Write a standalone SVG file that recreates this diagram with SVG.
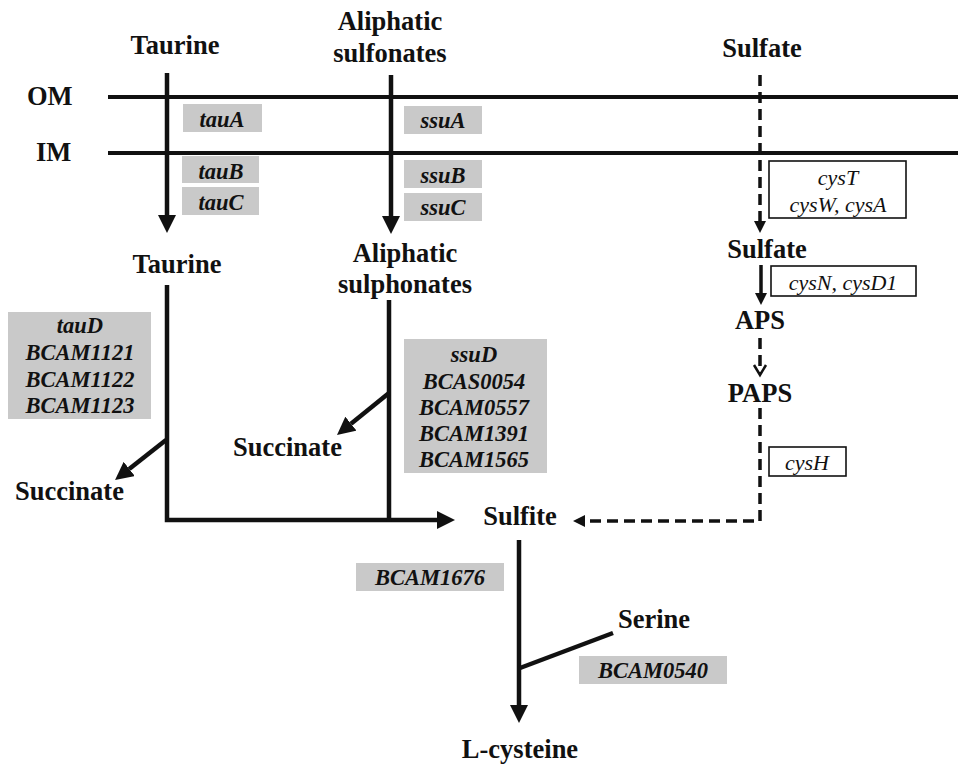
<svg xmlns="http://www.w3.org/2000/svg" width="958" height="766" viewBox="0 0 958 766">
<style>
.lbl{font-family:'Liberation Serif',serif;font-weight:bold;font-size:26.5px;fill:#111}
.c{text-anchor:middle}
.gene{font-family:'Liberation Serif',serif;font-weight:bold;font-style:italic;font-size:22.5px;fill:#111;text-anchor:middle}
.cys{font-family:'Liberation Serif',serif;font-style:italic;font-size:22px;fill:#111;text-anchor:middle}
.gbox{fill:#c9c9c9}
.wbox{fill:#fff;stroke:#111;stroke-width:1.6}
.mem{stroke:#111;stroke-width:4;fill:none}
.sol{stroke:#111;stroke-width:4.5;fill:none}
.dash{stroke:#111;stroke-width:3.5;fill:none;stroke-dasharray:11,6}
.thin{stroke:#111;stroke-width:3.5;fill:none}
</style>
<defs>
<marker id="ah" markerWidth="18" markerHeight="18" refX="0" refY="9" orient="auto" markerUnits="userSpaceOnUse" viewBox="0 0 18 18"><path d="M0,0 L18,9 L0,18 z" fill="#111"/></marker>
<marker id="as" markerWidth="12" markerHeight="12" refX="0" refY="6" orient="auto" markerUnits="userSpaceOnUse" viewBox="0 0 12 12"><path d="M0,0 L12,6 L0,12 z" fill="#111"/></marker>
</defs>
<g id="membranes">
<line class="mem" x1="108" y1="97" x2="958" y2="97"/>
<line class="mem" x1="108" y1="153" x2="958" y2="153"/>
<text class="lbl" x="27" y="105">OM</text>
<text class="lbl" x="36" y="161">IM</text>
</g>
<g id="connectors">
<line class="sol" x1="167" y1="73" x2="167" y2="215" marker-end="url(#ah)"/>
<line class="sol" x1="391" y1="75" x2="391" y2="216" marker-end="url(#ah)"/>
<line class="dash" x1="760" y1="75" x2="760" y2="221" marker-end="url(#as)"/>
<path class="sol" d="M167,285 V520 H437" marker-end="url(#ah)"/>
<line class="sol" x1="389" y1="300" x2="389" y2="522"/>
<line class="sol" x1="166" y1="440" x2="129.2" y2="468.9" marker-end="url(#ah)"/>
<line class="sol" x1="389" y1="393" x2="351" y2="423.7" marker-end="url(#ah)"/>
<line class="thin" x1="761" y1="265" x2="761" y2="293" marker-end="url(#as)"/>
<line class="dash" x1="760" y1="338" x2="760" y2="373"/>
<polyline points="754,365 760,375 766,365" fill="none" stroke="#111" stroke-width="2.5"/>
<path class="dash" d="M760,408 V521 H585" marker-end="url(#as)"/>
<line class="sol" x1="519" y1="540" x2="519" y2="705" marker-end="url(#ah)"/>
<line class="sol" x1="520" y1="668" x2="613" y2="633"/>
</g>
<g id="taurine-out"><text class="lbl c" x="175" y="54">Taurine</text></g>
<g id="aliphatic-out"><text class="lbl c" x="390" y="30">Aliphatic</text><text class="lbl c" x="390" y="62">sulfonates</text></g>
<g id="sulfate-out"><text class="lbl c" x="762" y="57">Sulfate</text></g>
<g id="tauA"><rect class="gbox" x="183" y="104" width="79" height="28"/><text class="gene" x="222" y="127">tauA</text></g>
<g id="tauB"><rect class="gbox" x="182" y="156" width="77" height="27"/><text class="gene" x="221" y="179">tauB</text></g>
<g id="tauC"><rect class="gbox" x="182" y="187" width="77" height="28"/><text class="gene" x="221" y="210">tauC</text></g>
<g id="ssuA"><rect class="gbox" x="404" y="106" width="78" height="28"/><text class="gene" x="443" y="128">ssuA</text></g>
<g id="ssuB"><rect class="gbox" x="404" y="160" width="78" height="28"/><text class="gene" x="443" y="183">ssuB</text></g>
<g id="ssuC"><rect class="gbox" x="404" y="193" width="78" height="28"/><text class="gene" x="443" y="215">ssuC</text></g>
<g id="cysTWA"><rect class="wbox" x="769" y="161" width="137" height="57"/><text class="cys" x="838" y="185">cysT</text><text class="cys" x="838" y="212">cysW, cysA</text></g>
<g id="taurine-in"><text class="lbl c" x="177" y="273">Taurine</text></g>
<g id="aliphatic-in"><text class="lbl c" x="405" y="262">Aliphatic</text><text class="lbl c" x="405" y="293">sulphonates</text></g>
<g id="sulfate-in"><text class="lbl c" x="767" y="258">Sulfate</text></g>
<g id="cysND"><rect class="wbox" x="771" y="266" width="145" height="30"/><text class="cys" x="843" y="290">cysN, cysD1</text></g>
<g id="aps"><text class="lbl c" x="760" y="329">APS</text></g>
<g id="paps"><text class="lbl c" x="760" y="402">PAPS</text></g>
<g id="cysH"><rect class="wbox" x="769" y="447" width="77" height="29"/><text class="cys" x="807" y="470">cysH</text></g>
<g id="tauD"><rect class="gbox" x="8" y="312" width="143" height="107"/>
<text class="gene" x="80" y="333">tauD</text><text class="gene" x="80" y="360">BCAM1121</text><text class="gene" x="80" y="387">BCAM1122</text><text class="gene" x="80" y="413">BCAM1123</text></g>
<g id="ssuD"><rect class="gbox" x="404" y="339" width="143" height="134"/>
<text class="gene" x="474" y="362">ssuD</text><text class="gene" x="474" y="389">BCAS0054</text><text class="gene" x="474" y="415">BCAM0557</text><text class="gene" x="474" y="441">BCAM1391</text><text class="gene" x="474" y="467">BCAM1565</text></g>
<g id="succinate-1"><text class="lbl" x="15" y="500">Succinate</text></g>
<g id="succinate-2"><text class="lbl" x="233" y="456">Succinate</text></g>
<g id="sulfite"><text class="lbl c" x="520" y="525">Sulfite</text></g>
<g id="BCAM1676"><rect class="gbox" x="356" y="563" width="148" height="28"/><text class="gene" x="430" y="585">BCAM1676</text></g>
<g id="serine"><text class="lbl" x="618" y="628">Serine</text></g>
<g id="BCAM0540"><rect class="gbox" x="579" y="656" width="148" height="28"/><text class="gene" x="653" y="678">BCAM0540</text></g>
<g id="lcysteine"><text class="lbl c" x="520" y="758">L-cysteine</text></g>
</svg>
